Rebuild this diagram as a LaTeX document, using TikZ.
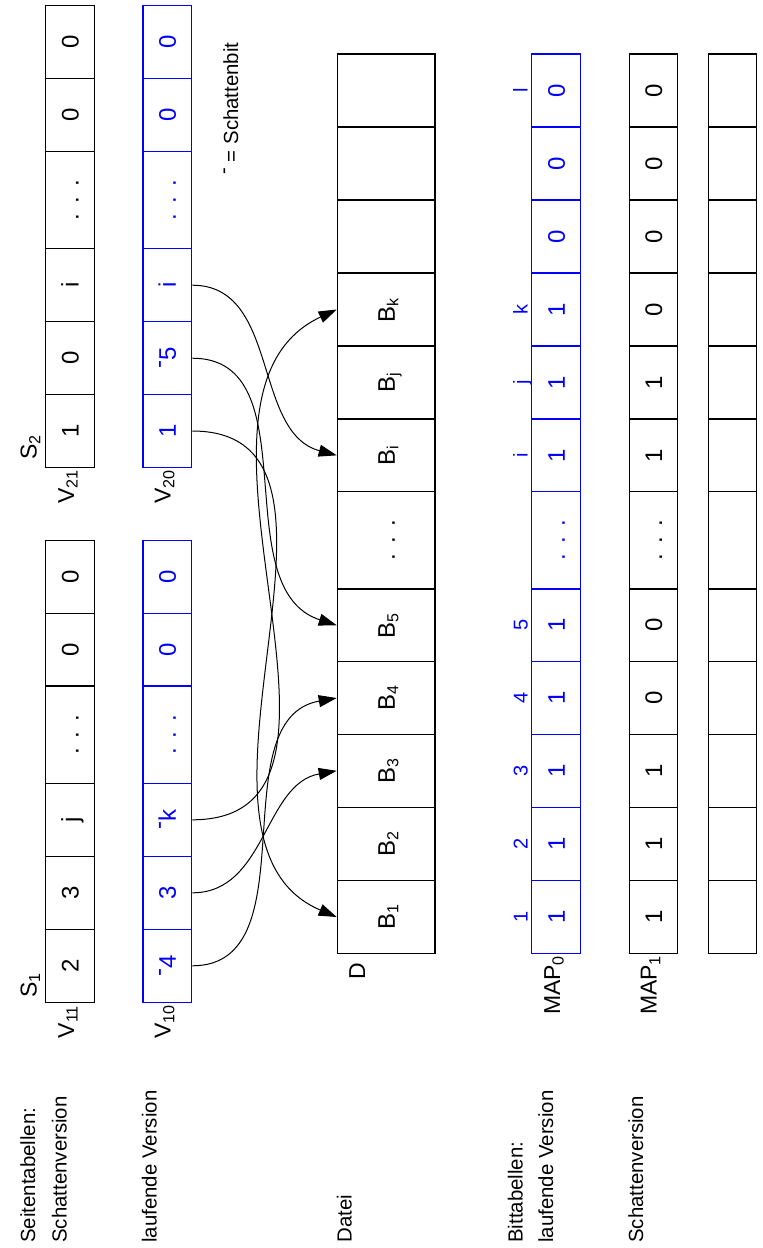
\documentclass[tikz,border=0pt]{standalone}
\usepackage{fontspec}
\setmainfont{Liberation Sans}
\usetikzlibrary{arrows.meta}
\newcommand\shb{\raisebox{0.4em}{-}}
\newcommand\ddd{.\hspace{0.42em}.\hspace{0.42em}.}
\begin{document}
\begin{tikzpicture}[x=0.5pt,y=-0.5pt,
  font=\fontsize{10.2pt}{12pt}\selectfont,
  cellk/.style={draw=black, line width=0.6pt, rectangle, inner sep=0pt, minimum width=24.35pt},
  cellb/.style={cellk, draw=blue},
  cellw/.style={cellk, minimum width=48.85pt},
  ct/.style={rotate=90, inner sep=0pt, text height=8.6pt, text depth=0pt, font=\fontsize{12pt}{14pt}\selectfont},
  ctb/.style={ct, text=blue},
  ix/.style={rotate=90, inner sep=0pt, text height=7.2pt, text depth=0pt, text=blue, font=\fontsize{10pt}{12pt}\selectfont},
  lbl/.style={rotate=90, inner sep=0pt, anchor=base west},
  sublbl/.style={rotate=90, inner sep=0pt, anchor=base, font=\fontsize{11.5pt}{13pt}\selectfont},
  conn/.style={line width=0.5pt, -{Triangle[length=9pt,width=6pt]}, out=0}]
\useasboundingbox (0,0) rectangle (763,1248);

% page tables S1 / V11 and V10
\foreach \n/\y/\h/\a/\b in {a/965.8/73/2/\shb4, b/892.8/73/3/3, c/819.8/73/j/\shb k, d/734.7/97.3/\ddd/\ddd, e/649.7/73/0/0, f/576.8/73/0/0}{
  \node[cellk, minimum height=\h*0.5pt] (s1\n) at (70,\y) {};
  \node[ct] (s1\n-t) at (s1\n) {\a};
  \node[cellb, minimum height=\h*0.5pt] (v10\n) at (167.35,\y) {};
  \node[ctb] (v10\n-t) at (v10\n) {\b};
}
% page tables S2 / V21 and V20
\foreach \n/\y/\h/\a/\b in {a/431/73/1/1, b/358.2/73/0/\shb5, c/285.2/73/i/i, d/200/97.4/\ddd/\ddd, e/114.8/73/0/0, f/41.8/73/0/0}{
  \node[cellk, minimum height=\h*0.5pt] (s2\n) at (70,\y) {};
  \node[ct] (s2\n-t) at (s2\n) {\a};
  \node[cellb, minimum height=\h*0.5pt] (v20\n) at (167.35,\y) {};
  \node[ctb] (v20\n-t) at (v20\n) {\b};
}

% file D, MAP0, MAP1, empty row
\foreach \n/\y/\h/\d/\m/\s in {
  1/917/73/B\textsubscript{1}/1/1,
  2/844/73/B\textsubscript{2}/1/1,
  3/770.8/73/B\textsubscript{3}/1/1,
  4/698/73/B\textsubscript{4}/1/0,
  5/625.3/73/B\textsubscript{5}/1/0,
  6/540.35/97.3/\ddd/\ddd/\ddd,
  7/455.35/73/B\textsubscript{i}/1/1,
  8/382.5/73/B\textsubscript{j}/1/1,
  9/309.5/73/B\textsubscript{k}/1/0,
  10/236.5/73/{}/0/0,
  11/163.5/73/{}/0/0,
  12/90.5/73/{}/0/0}{
  \node[cellw, minimum height=\h*0.5pt] (d\n) at (386.15,\y) {};
  \node[ct] (d\n-t) at (d\n) {\d};
  \node[cellb, minimum height=\h*0.5pt] (m0\n) at (556.2,\y) {};
  \node[ctb] (m0\n-t) at (m0\n) {\m};
  \node[cellk, minimum height=\h*0.5pt] (m1\n) at (653.5,\y) {};
  \node[ct] (m1\n-t) at (m1\n) {\s};
  \node[cellk, minimum height=\h*0.5pt] (e\n) at (732.5,\y) {};
}
% indices above MAP0
\foreach \n/\y/\t in {1/917/1, 2/844/2, 3/770.8/3, 4/698/4, 5/625.3/5, 7/455.35/i, 8/382.5/j, 9/309.5/k, 12/90.5/l}{
  \node[ix] (ix\n) at (520.3,\y) {\t};
}

% labels
\node[lbl] (l1) at (35,1243) {Seitentabellen:};
\node[lbl] (l2) at (66.7,1243) {Schattenversion};
\node[lbl] (l3) at (156.7,1243) {laufende Version};
\node[lbl] (l4) at (351.7,1243) {Datei};
\node[lbl] (l5) at (522.5,1243) {Bittabellen:};
\node[lbl] (l6) at (553,1243) {laufende Version};
\node[lbl] (l7) at (643,1243) {Schattenversion};
\node[lbl] (l8) at (238,175) {\shb{} = Schattenbit};

\node[sublbl] (ls1) at (36.5,985) {S\textsubscript{1}};
\node[sublbl] (ls2) at (36.7,446.7) {S\textsubscript{2}};
\node[sublbl] (lv11) at (74,1021.7) {V\textsubscript{11}};
\node[sublbl] (lv10) at (170.7,1021.7) {V\textsubscript{10}};
\node[sublbl] (lv21) at (74,486.7) {V\textsubscript{21}};
\node[sublbl] (lv20) at (170.7,486.7) {V\textsubscript{20}};
\node[sublbl] (ld) at (365,971) {D};
\node[sublbl] (lm0) at (560,985) {MAP\textsubscript{0}};
\node[sublbl] (lm1) at (656.7,985) {MAP\textsubscript{1}};

% connectors
\draw[conn] (v10a.east) to[in=190] (d4.west);
\draw[conn] (v10b.east) to[in=190] (d3.west);
\draw[conn] (v10c.east) to[in=205] (d9.west);
\draw[conn] (v20a.east) to[in=157] (d1.west);
\draw[conn] (v20b.east) to[in=162] (d5.west);
\draw[conn] (v20c.east) to[in=165] (d7.west);
\end{tikzpicture}
\end{document}
